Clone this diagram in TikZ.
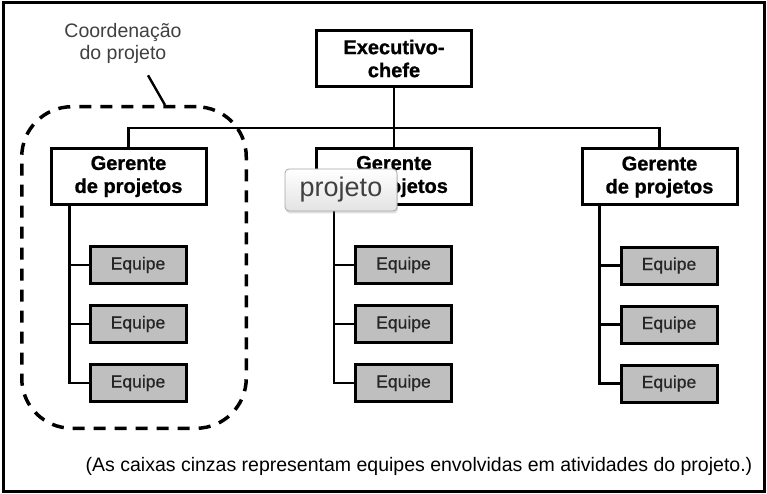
\documentclass[tikz,border=0pt]{standalone}
\usepackage{fontspec}
\setmainfont{Liberation Sans}
\usetikzlibrary{positioning,shadows}

\begin{document}
\begin{tikzpicture}[x=1pt, y=-1pt, line width=2.4pt, node distance=59pt]
  \tikzstyle{every node}=[inner sep=0pt]
  \tikzstyle{boss}=[draw=black, line width=3pt, fill=white, minimum width=155pt,
                    minimum height=56pt, align=center,
                    font=\fontsize{20}{23}\selectfont\bfseries\addfontfeatures{FakeBold=1}]
  \tikzstyle{team}=[draw=black, line width=3pt, fill=gray!50, minimum width=96pt,
                    minimum height=37pt, text=black!85,
                    font=\fontsize{17.5}{20}\selectfont\addfontfeatures{FakeBold=0.6}]
  \tikzstyle{coord}=[draw=black, line width=3.5pt, dash pattern=on 12pt off 9pt,
                     rounded corners=50pt, minimum width=224.5pt, minimum height=321.5pt]
  \tikzstyle{note}=[align=center, text=black!75, font=\fontsize{19.5}{22}\selectfont]
  \tikzstyle{tip}=[draw=gray!70, line width=0.8pt, rounded corners=4pt,
                   top color=white, bottom color=gray!22, minimum width=112pt,
                   minimum height=42pt, text=black!75, font=\fontsize{27}{30}\selectfont,
                   drop shadow={opacity=0.25, shadow xshift=1pt, shadow yshift=-2.5pt}]

  \useasboundingbox (0,0) rectangle (767,494);
  \draw[line width=3pt] (3,3) rectangle (764,491);

	\node[boss]	(0) at (394,58.5)	{Executivo-\\chefe};
	\node[boss]	(1) at (128.5,176.5)	{Gerente\\de projetos};
	\node[boss]	(2) at (394,176.5)	{Gerente\\de projetos};
	\node[boss]	(3) at (659.5,177)	{Gerente\\de projetos};

	\node[team]	(11) [below=39pt of 1, xshift=9.5pt]	{Equipe};
	\node[team]	(12) [below of=11]	{Equipe};
	\node[team]	(13) [below of=12]	{Equipe};
	\node[team]	(21) [below=39pt of 2, xshift=9.5pt]	{Equipe};
	\node[team]	(22) [below of=21]	{Equipe};
	\node[team]	(23) [below of=22]	{Equipe};
	\node[team]	(31) [below=39pt of 3, xshift=9.5pt]	{Equipe};
	\node[team]	(32) [below of=31]	{Equipe};
	\node[team]	(33) [below of=32]	{Equipe};

	\draw (0) -- (2);
	\draw (1.north) -- ++(0,19pt) -| (3.north);
	\draw ([xshift=20pt]1.south west) |- (11.west)
	      ([xshift=20pt]1.south west) |- (12.west)
	      ([xshift=20pt]1.south west) |- (13.west);
	\draw ([xshift=19pt]2.south west) |- (21.west)
	      ([xshift=19pt]2.south west) |- (22.west)
	      ([xshift=19pt]2.south west) |- (23.west);
	\draw ([xshift=19pt]3.south west) |- (31.west)
	      ([xshift=19pt]3.south west) |- (32.west)
	      ([xshift=19pt]3.south west) |- (33.west);

	\node[coord]	(c) at (134,267.5)	{};
	\node[note]	(4) at (123,43)	{Coordenação\\do projeto};
	\draw ([shift={(25pt,-11pt)}]4.south) -- ([xshift=31pt]c.north);

	\node[tip]	(5) at (341,190)	{projeto};
	\node[font=\fontsize{19.5}{22}\selectfont]	(6) at (419,466)
		{(As caixas cinzas representam equipes envolvidas em atividades do projeto.)};

\end{tikzpicture}
\end{document}
